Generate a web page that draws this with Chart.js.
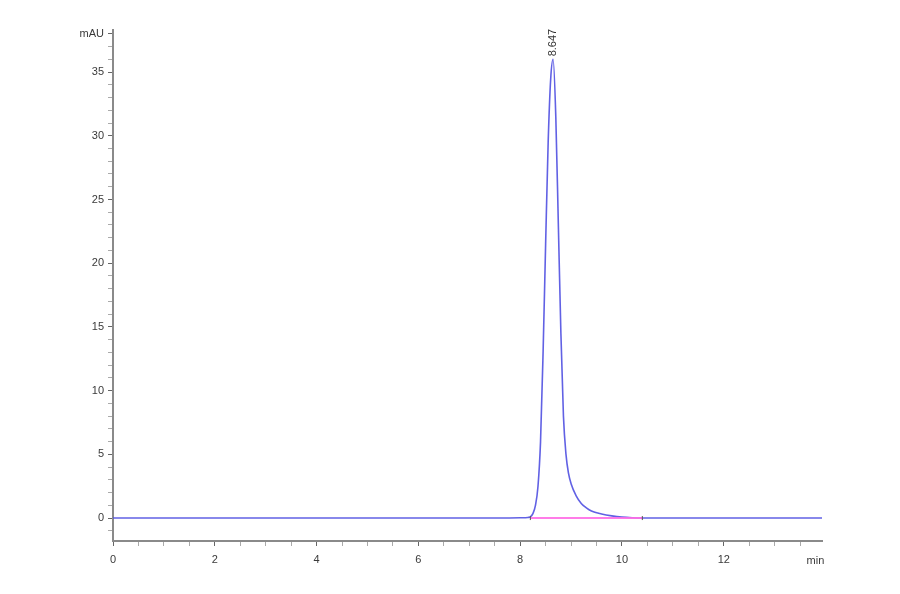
<!DOCTYPE html>
<html>
<head>
<meta charset="utf-8">
<title>Chromatogram</title>
<script src="https://cdn.jsdelivr.net/npm/chart.js@4/dist/chart.umd.min.js"></script>
<style>
  html, body { margin: 0; padding: 0; background: #fff; }
  #wrap { width: 900px; height: 594px; position: relative; }
</style>
</head>
<body>
<div id="wrap"><canvas id="chart"></canvas></div>
<script>
// Retention time (min) and signal (mAU)
const tempos = [0, 1, 2, 3, 4, 5, 6, 7, 7.5, 8.0, 8.15, 8.2, 8.25, 8.3, 8.35, 8.4, 8.45, 8.5, 8.55, 8.6, 8.647,
                8.7, 8.75, 8.8, 8.85, 8.9, 8.95, 9.0, 9.1, 9.2, 9.3, 9.4, 9.6, 9.8, 10.0, 10.2, 10.4, 11, 12, 13, 13.93];
const sinal = [0, 0, 0, 0, 0, 0, 0, 0, 0, 0.02, 0.05, 0.1, 0.35, 1.0, 2.5, 6.0, 13.0, 21.5, 29.5, 34.5, 36.0,
               31.5, 23.0, 14.5, 8.0, 5.0, 3.5, 2.7, 1.75, 1.15, 0.8, 0.55, 0.32, 0.17, 0.07, 0.02, 0, 0, 0, 0, 0];

// Integration baseline (pink) under the peak
const baseTempos = [8.2, 10.4];
const baseSinal = [0, 0];

// Peak label
const picoTempo = 8.647;
const picoAltura = 36.0;
const picoTexto = '8.647';

// Axis ticks
const xTicks = [];
for (let i = 0; i <= 27; i++) xTicks.push(i * 0.5);
const xLabels = [0, 2, 4, 6, 8, 10, 12];
const yTicks = [];
for (let i = -1; i <= 38; i++) yTicks.push(i);
const yLabels = [0, 5, 10, 15, 20, 25, 30, 35];

const corEixo = '#8a8a8a';
const corTexto = '#3a3a3a';
const fonte = { family: '"Liberation Sans", Arial, sans-serif', size: 11 };

// Plugin: peak label + unit labels
const rotulos = {
    id: 'rotulos',
    afterDatasetsDraw(chart) {
        const { ctx, scales: { x, y } } = chart;
        ctx.save();
        ctx.fillStyle = '#333';
        ctx.font = '11px "Liberation Sans", Arial, sans-serif';
        // rótulo do pico, vertical
        const px = x.getPixelForValue(picoTempo);
        const py = y.getPixelForValue(picoAltura);
        ctx.translate(px, py - 3);
        ctx.rotate(-Math.PI / 2);
        ctx.textAlign = 'left';
        ctx.textBaseline = 'middle';
        ctx.fillText(picoTexto, 0, 0);
        ctx.restore();

        ctx.save();
        ctx.fillStyle = corTexto;
        ctx.font = '11px "Liberation Sans", Arial, sans-serif';
        ctx.textAlign = 'center';
        ctx.textBaseline = 'middle';
        ctx.fillText('min', x.getPixelForValue(13.8), chart.chartArea.bottom + 20);
        ctx.restore();
    }
};

new Chart(document.getElementById('chart').getContext('2d'), {
    type: 'line',
    data: {
        datasets: [
            {
                label: 'baseline',
                data: baseTempos.map((t, i) => ({ x: t, y: baseSinal[i] })),
                borderColor: 'rgba(255, 110, 230, 0.9)',
                borderWidth: 2,
                pointRadius: 2,
                pointStyle: 'line',
                rotation: 90,
                pointBorderColor: '#555',
                pointBorderWidth: 1,
                order: 0
            },
            {
                label: 'mAU',
                data: tempos.map((t, i) => ({ x: t, y: sinal[i] })),
                borderColor: 'rgba(80, 80, 225, 0.9)',
                borderWidth: 1.6,
                pointRadius: 0,
                cubicInterpolationMode: 'monotone',
                fill: false,
                order: 1
            }
        ]
    },
    options: {
        responsive: true,
        maintainAspectRatio: false,
        animation: false,
        layout: { padding: { left: 0, right: 78, top: 30, bottom: 0 } },
        plugins: { legend: { display: false }, tooltip: { enabled: false } },
        scales: {
            x: {
                type: 'linear',
                min: 0,
                max: 13.93,
                afterFit: s => { s.height = 53; },
                afterBuildTicks: s => { s.ticks = xTicks.map(v => ({ value: v })); },
                border: { color: corEixo, width: 2 },
                grid: {
                    drawOnChartArea: false,
                    tickLength: 5,
                    tickColor: c => xLabels.includes(c.tick.value) ? '#666' : '#aaa'
                },
                ticks: {
                    autoSkip: false,
                    maxRotation: 0,
                    padding: 7,
                    color: corTexto,
                    font: fonte,
                    callback: v => xLabels.includes(v) ? String(v) : ''
                }
            },
            y: {
                type: 'linear',
                min: -1.8,
                max: 38.3,
                afterFit: s => { s.width = 113; },
                afterBuildTicks: s => { s.ticks = yTicks.map(v => ({ value: v })); },
                border: { color: corEixo, width: 2 },
                grid: {
                    drawOnChartArea: false,
                    tickLength: 5,
                    tickColor: c => (yLabels.includes(c.tick.value) || c.tick.value === 38) ? '#666' : '#aaa'
                },
                ticks: {
                    autoSkip: false,
                    padding: 4,
                    color: corTexto,
                    font: fonte,
                    callback: v => yLabels.includes(v) ? String(v) : (v === 38 ? 'mAU' : '')
                }
            }
        }
    },
    plugins: [rotulos]
});
</script>
</body>
</html>
